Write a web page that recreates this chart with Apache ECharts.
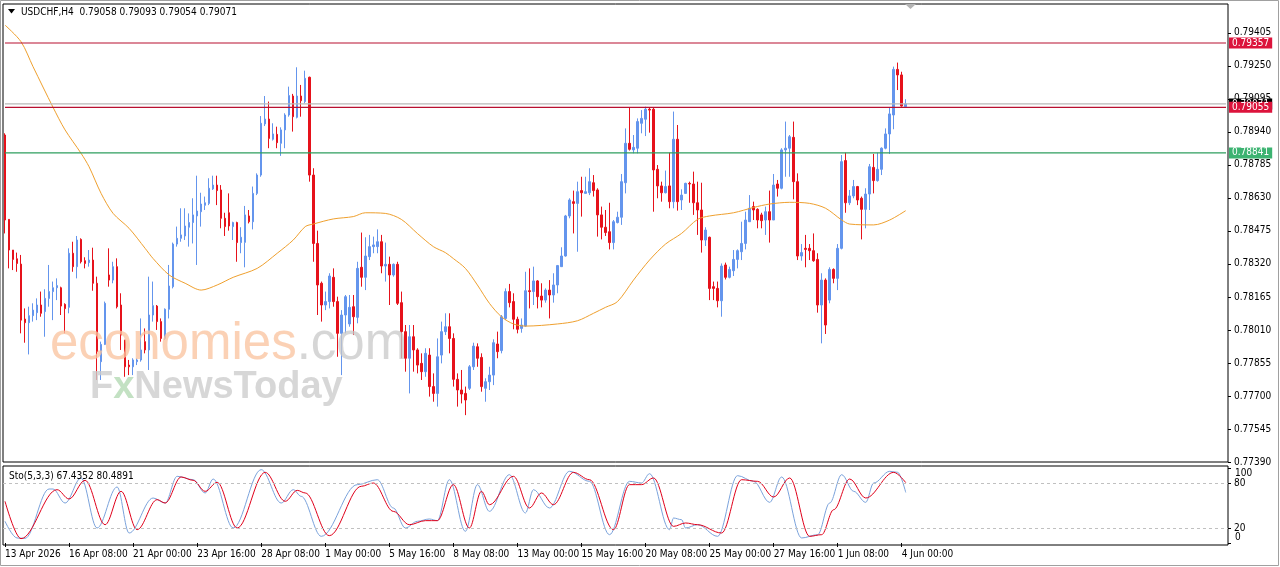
<!DOCTYPE html>
<html><head><meta charset="utf-8">
<script src="https://cdn.jsdelivr.net/npm/echarts@6/dist/echarts.min.js"></script>
<style>html,body{margin:0;padding:0;background:#fff}#c{width:1280px;height:567px}</style>
</head><body><div id="c"></div>
<script>
// ---------------- data ----------------
const symbolTitle = 'USDCHF,H4  0.79058 0.79093 0.79054 0.79071';
const stochTitle = 'Sto(5,3,3) 67.4352 80.4891';
const timeLabels = ['13 Apr 2026','16 Apr 08:00','21 Apr 00:00','23 Apr 16:00','28 Apr 08:00','1 May 00:00','5 May 16:00','8 May 08:00','13 May 00:00','15 May 16:00','20 May 08:00','25 May 00:00','27 May 16:00','1 Jun 08:00','4 Jun 00:00'];
const labelEvery = 16;      // bars between time labels
const totalSlots = 306;     // bar slots incl. right-hand chart shift
const priceTicks = [0.77390,0.77545,0.77700,0.77855,0.78010,0.78165,0.78320,0.78475,0.78630,0.78785,0.78940,0.79095,0.79250,0.79405];
const stochTicks = [0,20,80,100];
const stochInnerLabels = [20,80];
const stochEdgeLabels = [100,0];
const stochLevels = [20,80];
const resistanceLevel = 0.79357;
const pivotLevel = 0.79055;
const supportLevel = 0.78841;
const bidLevel = 0.79071;

// [open, close, low, high]
const candles = [
[0.78925,0.78526,0.78463,0.78933],[0.78529,0.78385,0.78299,0.78529],[0.78385,0.78341,0.78291,0.78385],[0.78344,0.78322,0.78283,0.78373],
[0.78319,0.78056,0.77994,0.78362],[0.78061,0.78044,0.77950,0.78111],[0.78044,0.78077,0.77895,0.78119],[0.78077,0.78103,0.78049,0.78135],
[0.78091,0.78127,0.78056,0.78158],[0.78127,0.78088,0.78072,0.78190],[0.78096,0.78158,0.77978,0.78201],[0.78158,0.78190,0.78119,0.78315],
[0.78190,0.78208,0.78056,0.78237],[0.78208,0.78218,0.78150,0.78252],[0.78208,0.78122,0.78080,0.78213],[0.78130,0.78110,0.77994,0.78135],
[0.78116,0.78370,0.78088,0.78393],[0.78370,0.78307,0.78283,0.78424],[0.78307,0.78432,0.78252,0.78451],[0.78435,0.78330,0.78322,0.78440],
[0.78335,0.78322,0.78299,0.78351],[0.78326,0.78338,0.78307,0.78385],[0.78338,0.78229,0.78194,0.78396],[0.78229,0.77908,0.77775,0.78260],
[0.77861,0.77942,0.77775,0.77955],[0.77942,0.78135,0.77939,0.78143],[0.78268,0.78244,0.78213,0.78393],[0.78244,0.78307,0.78229,0.78330],
[0.78307,0.78119,0.78111,0.78346],[0.78127,0.77986,0.77916,0.78182],[0.77963,0.77837,0.77790,0.77963],[0.77845,0.77837,0.77798,0.77869],
[0.77837,0.77869,0.77798,0.77877],[0.77861,0.77869,0.77845,0.77877],[0.77869,0.77916,0.77861,0.78064],[0.77955,0.77916,0.77900,0.78017],
[0.77916,0.78080,0.77822,0.78260],[0.78080,0.78124,0.78049,0.78237],[0.78122,0.78049,0.78010,0.78127],[0.78049,0.77970,0.77955,0.78064],
[0.77970,0.78107,0.77963,0.78111],[0.78107,0.78216,0.78064,0.78315],[0.78213,0.78413,0.78205,0.78420],[0.78413,0.78440,0.78401,0.78495],
[0.78440,0.78456,0.78424,0.78581],[0.78451,0.78498,0.78432,0.78581],[0.78492,0.78514,0.78401,0.78557],[0.78514,0.78550,0.78416,0.78628],
[0.78545,0.78568,0.78315,0.78734],[0.78565,0.78601,0.78495,0.78654],[0.78595,0.78607,0.78573,0.78636],[0.78604,0.78675,0.78596,0.78722],
[0.78672,0.78690,0.78667,0.78734],[0.78690,0.78664,0.78596,0.78734],[0.78667,0.78534,0.78487,0.78690],[0.78534,0.78495,0.78451,0.78560],
[0.78560,0.78498,0.78476,0.78651],[0.78495,0.78514,0.78432,0.78518],[0.78514,0.78420,0.78330,0.78518],[0.78420,0.78445,0.78370,0.78492],
[0.78421,0.78550,0.78304,0.78592],[0.78545,0.78518,0.78510,0.78573],[0.78518,0.78651,0.78482,0.78683],[0.78651,0.78737,0.78643,0.78745],
[0.78737,0.78980,0.78729,0.79014],[0.78977,0.79000,0.78967,0.79108],[0.79000,0.78909,0.78863,0.79082],[0.78905,0.78930,0.78899,0.78980],
[0.78928,0.78889,0.78863,0.78964],[0.78886,0.78949,0.78827,0.78961],[0.78949,0.79019,0.78863,0.79027],[0.79019,0.79110,0.79011,0.79152],
[0.79108,0.79011,0.78941,0.79118],[0.79008,0.79108,0.79003,0.79243],[0.79108,0.79086,0.79011,0.79160],[0.79082,0.79191,0.79074,0.79227],
[0.79196,0.78737,0.78706,0.79199],[0.78737,0.78416,0.78330,0.78769],[0.78416,0.78221,0.78080,0.78476],[0.78229,0.78127,0.78049,0.78237],
[0.78127,0.78143,0.78103,0.78190],[0.78143,0.78263,0.78111,0.78276],[0.78257,0.78143,0.78119,0.78299],[0.78143,0.77994,0.77884,0.78166],
[0.77994,0.78080,0.77798,0.78103],[0.78080,0.78166,0.77994,0.78174],[0.78038,0.78116,0.78025,0.78174],[0.78119,0.78072,0.77986,0.78174],
[0.78069,0.78299,0.78041,0.78330],[0.78304,0.78257,0.78213,0.78467],[0.78257,0.78357,0.78197,0.78445],[0.78354,0.78401,0.78338,0.78456],
[0.78401,0.78409,0.78370,0.78448],[0.78401,0.78424,0.78370,0.78482],[0.78424,0.78310,0.78276,0.78456],[0.78310,0.78318,0.78237,0.78420],
[0.78318,0.78268,0.78127,0.78354],[0.78268,0.78318,0.78260,0.78322],[0.78318,0.78135,0.78127,0.78330],[0.78138,0.78002,0.77877,0.78190],
[0.78002,0.77877,0.77814,0.78033],[0.77877,0.77978,0.77712,0.78033],[0.77978,0.77916,0.77814,0.78033],[0.77916,0.77845,0.77806,0.77924],
[0.77853,0.77814,0.77775,0.77900],[0.77814,0.77900,0.77790,0.77924],[0.77892,0.77744,0.77697,0.77924],[0.77744,0.77712,0.77673,0.77806],
[0.77712,0.77884,0.77650,0.77970],[0.77892,0.78002,0.77853,0.78049],[0.78002,0.78025,0.77986,0.78088],[0.78025,0.77970,0.77900,0.78088],
[0.77970,0.77778,0.77744,0.77994],[0.77778,0.77728,0.77650,0.77806],[0.77728,0.77709,0.77665,0.77822],[0.77712,0.77681,0.77610,0.77744],
[0.77736,0.77837,0.77728,0.77845],[0.77837,0.77934,0.77822,0.77950],[0.77931,0.77877,0.77837,0.77947],[0.77881,0.77744,0.77720,0.77900],
[0.77736,0.77767,0.77673,0.77783],[0.77767,0.77798,0.77728,0.77837],[0.77798,0.77950,0.77751,0.77966],[0.77944,0.77908,0.77877,0.78002],
[0.77913,0.78072,0.77900,0.78080],[0.78064,0.78190,0.78056,0.78205],[0.78190,0.78138,0.78116,0.78226],[0.78143,0.78060,0.78013,0.78182],
[0.78060,0.78013,0.77994,0.78072],[0.78017,0.78033,0.77997,0.78064],[0.78028,0.78194,0.78025,0.78283],[0.78194,0.78190,0.78111,0.78299],
[0.78190,0.78240,0.78127,0.78307],[0.78240,0.78166,0.78111,0.78244],[0.78169,0.78150,0.78116,0.78229],[0.78150,0.78197,0.78138,0.78205],
[0.78197,0.78174,0.78064,0.78244],[0.78174,0.78221,0.78138,0.78276],[0.78221,0.78312,0.78182,0.78315],[0.78307,0.78357,0.78307,0.78398],
[0.78357,0.78545,0.78354,0.78550],[0.78545,0.78620,0.78534,0.78628],[0.78612,0.78604,0.78463,0.78664],[0.78604,0.78659,0.78377,0.78706],
[0.78664,0.78654,0.78542,0.78729],[0.78651,0.78659,0.78651,0.78729],[0.78654,0.78706,0.78643,0.78769],[0.78701,0.78664,0.78636,0.78737],
[0.78667,0.78550,0.78448,0.78675],[0.78550,0.78492,0.78435,0.78589],[0.78492,0.78467,0.78451,0.78573],[0.78471,0.78420,0.78388,0.78607],
[0.78420,0.78518,0.78388,0.78526],[0.78514,0.78539,0.78510,0.78565],[0.78539,0.78706,0.78503,0.78742],[0.78701,0.78886,0.78651,0.78956],
[0.78886,0.78858,0.78852,0.79055],[0.78855,0.78867,0.78839,0.78925],[0.78863,0.78988,0.78839,0.79003],[0.78980,0.79003,0.78933,0.79042],
[0.78999,0.79046,0.78920,0.79058],[0.79046,0.79042,0.78936,0.79055],[0.79046,0.78761,0.78565,0.79055],[0.78764,0.78686,0.78628,0.78784],
[0.78686,0.78654,0.78612,0.78706],[0.78654,0.78683,0.78651,0.78758],[0.78686,0.78612,0.78581,0.78842],[0.78612,0.78905,0.78581,0.79035],
[0.78905,0.78612,0.78570,0.78972],[0.78620,0.78643,0.78573,0.78670],[0.78651,0.78698,0.78651,0.78701],[0.78698,0.78695,0.78607,0.78706],
[0.78695,0.78607,0.78550,0.78753],[0.78607,0.78573,0.78456,0.78706],[0.78573,0.78432,0.78373,0.78701],[0.78432,0.78479,0.78404,0.78492],
[0.78445,0.78205,0.78150,0.78448],[0.78213,0.78205,0.78150,0.78237],[0.78205,0.78147,0.78116,0.78237],[0.78147,0.78310,0.78072,0.78322],
[0.78315,0.78257,0.78247,0.78326],[0.78257,0.78294,0.78252,0.78307],[0.78288,0.78341,0.78263,0.78385],[0.78341,0.78382,0.78299,0.78388],
[0.78377,0.78416,0.78338,0.78518],[0.78416,0.78526,0.78388,0.78565],[0.78518,0.78581,0.78518,0.78643],[0.78589,0.78573,0.78526,0.78612],
[0.78576,0.78526,0.78487,0.78581],[0.78550,0.78523,0.78487,0.78560],[0.78526,0.78565,0.78456,0.78589],[0.78565,0.78526,0.78420,0.78664],
[0.78526,0.78690,0.78526,0.78742],[0.78695,0.78675,0.78636,0.78714],[0.78675,0.78855,0.78670,0.78863],[0.78855,0.78863,0.78729,0.78988],
[0.78863,0.78917,0.78729,0.78925],[0.78914,0.78706,0.78623,0.78988],[0.78706,0.78357,0.78338,0.78745],[0.78357,0.78373,0.78335,0.78413],
[0.78393,0.78388,0.78304,0.78456],[0.78393,0.78382,0.78338,0.78413],[0.78382,0.78335,0.78330,0.78463],[0.78341,0.78127,0.78091,0.78370],
[0.78127,0.78244,0.77947,0.78276],[0.78244,0.78033,0.77991,0.78252],[0.78150,0.78294,0.78135,0.78304],[0.78294,0.78252,0.78229,0.78299],
[0.78252,0.78393,0.78197,0.78413],[0.78393,0.78800,0.78388,0.78831],[0.78805,0.78607,0.78560,0.78842],[0.78607,0.78639,0.78596,0.78667],
[0.78639,0.78683,0.78628,0.78714],[0.78683,0.78620,0.78596,0.78686],[0.78628,0.78576,0.78435,0.78636],[0.78576,0.78648,0.78487,0.78675],
[0.78648,0.78776,0.78573,0.78789],[0.78773,0.78711,0.78651,0.78836],[0.78711,0.78764,0.78706,0.78842],[0.78764,0.78863,0.78737,0.78867],
[0.78863,0.78930,0.78858,0.78956],[0.78930,0.79024,0.78836,0.79055],[0.79019,0.79233,0.78952,0.79246],[0.79233,0.79207,0.79136,0.79265],
[0.79207,0.79061,0.79058,0.79222],[0.79058,0.79071,0.79054,0.79093]
];

// moving average readings: [bar index, price]
const maReadings = [[0,0.79441],[4,0.79363],[7,0.79246],[12,0.79055],[15,0.78949],[19,0.78839],[21,0.78776],[24,0.78651],[27,0.78557],[31,0.78487],[35,0.78393],[37,0.78345],[41,0.78268],[45,0.78229],[49,0.78197],[53,0.78221],[57,0.78257],[63,0.78299],[68,0.78370],[72,0.78432],[75,0.78495],[77,0.78507],[82,0.78531],[87,0.78542],[90,0.78560],[95,0.78557],[99,0.78529],[103,0.78463],[107,0.78401],[110,0.78373],[112,0.78345],[115,0.78299],[118,0.78221],[121,0.78135],[124,0.78072],[127,0.78038],[130,0.78028],[138,0.78038],[143,0.78053],[147,0.78088],[150,0.78116],[153,0.78143],[157,0.78244],[161,0.78338],[165,0.78413],[169,0.78463],[173,0.78529],[176,0.78545],[182,0.78560],[187,0.78585],[191,0.78601],[196,0.78609],[201,0.78604],[205,0.78581],[209,0.78526],[211,0.78507],[217,0.78503],[221,0.78526],[225,0.78570]];

// stochastic readings: [bar index, value]
const stochMain = [[0,28.9],[3,6.7],[5,6.2],[11,72],[12,72],[15,53.3],[19,86.7],[23,20],[28,74.7],[31,13.3],[37,60],[40,53.3],[43,88.9],[47,84.4],[50,66.7],[52,85.3],[57,20],[64,97.8],[69,53.3],[72,71.1],[74,62.2],[79,8.9],[88,77.8],[93,84.4],[97,46.7],[100,20],[103,28.9],[106,32],[108,29.8],[111,84.4],[115,15.6],[118,77.8],[121,42.2],[126,91.1],[130,40],[132,71.1],[136,46.7],[141,95.6],[146,82.2],[151,11.1],[156,82.2],[159,80],[161,92.4],[166,17.8],[167,33.3],[169,31.1],[170,20],[173,24.4],[178,8.9],[183,89.8],[187,82.2],[191,54.2],[194,88],[199,6.7],[203,11.1],[206,53.3],[209,91.1],[212,68.9],[215,54.2],[217,80],[221,95.6],[223,94.2],[225,67.4352]];
const stochSignal = [[0,55.6],[4,5.8],[13,71.1],[16,58.7],[20,83.6],[25,24.4],[29,68.9],[33,17.8],[38,57.8],[40,53.3],[44,88],[47,83.6],[50,68.9],[53,80.9],[58,20],[65,94.2],[70,55.6],[73,70.2],[75,66.7],[81,9.8],[89,75.6],[92,80],[97,42.2],[101,24.4],[105,29.8],[108,29.8],[112,77.8],[116,20],[119,68.9],[121,51.1],[127,88.9],[131,46.7],[134,66.7],[137,51.1],[142,94.2],[146,84.4],[152,17.8],[156,77.8],[159,77.8],[162,86.7],[167,22.2],[170,26.7],[173,24.4],[179,13.3],[184,84.4],[188,82.2],[192,61.3],[196,86.7],[201,8.9],[204,11.1],[207,44.4],[211,85.3],[215,60],[222,94.2],[225,80.4891]];

// ---------------- chart ----------------
const FONT = "'DejaVu Sans Condensed','DejaVu Sans',sans-serif";
const UP = '#6495ED', DOWN = '#E6121B';
const cats = Array.from({length: totalSlots}, (_, i) => String(i));
const isLabelSlot = (i) => i % labelEvery === 0 && i / labelEvery < timeLabels.length;
const txt = {color:'#000', fontFamily:FONT, fontSize:10};

// each horizontal level is a flat two-point line across the whole time span, with its price box at the end
function levelSeries(value, lineColor, boxColor, z) {
  return {
    type: 'line', xAxisIndex: 0, yAxisIndex: 0, z: z, silent: true, showSymbol: false, symbol: 'none',
    data: [[0, value], [totalSlots - 1, value]],
    lineStyle: {color: lineColor, width: 1.2},
    itemStyle: {color: lineColor},
    emphasis: {disabled: true},
    endLabel: {show: true, distance: 3, formatter: () => value.toFixed(5),
      backgroundColor: boxColor, color: '#fff', padding: [1, 3, 0, 3], fontFamily: FONT, fontSize: 10}
  };
}

const chart = echarts.init(document.getElementById('c'), null, {renderer: 'canvas', width: 1280, height: 567});
chart.setOption({
  animation: false,
  backgroundColor: '#fff',
  grid: [
    {left: 3, top: 4, width: 1225, height: 458, show: true, borderColor: '#000', borderWidth: 1, backgroundColor: 'transparent'},
    {left: 3, top: 466, width: 1225, height: 79, show: true, borderColor: '#000', borderWidth: 1, backgroundColor: 'transparent'}
  ],
  xAxis: [
    {type: 'category', gridIndex: 0, data: cats, boundaryGap: true, axisLine: {show: false}, axisTick: {show: false}, axisLabel: {show: false}, splitLine: {show: false}},
    {type: 'category', gridIndex: 1, data: cats, boundaryGap: true, axisLine: {show: false},
      axisTick: {show: true, alignWithLabel: true, interval: (i) => isLabelSlot(i), length: 4, lineStyle: {color: '#000'}},
      axisLabel: Object.assign({interval: (i) => isLabelSlot(i), formatter: (v, i) => timeLabels[i / labelEvery] || '', align: 'left', margin: 4}, txt),
      splitLine: {show: false}}
  ],
  yAxis: [
    {type: 'value', gridIndex: 0, position: 'right', min: priceTicks[0], max: 0.79540, scale: true,
      axisLine: {show: false}, splitLine: {show: false},
      axisTick: {show: true, customValues: priceTicks, length: 3, lineStyle: {color: '#000'}},
      axisLabel: Object.assign({customValues: priceTicks, formatter: (v) => v.toFixed(5), margin: 6}, txt)},
    {type: 'value', gridIndex: 1, position: 'right', min: -2.67, max: 102.67,
      axisLine: {show: false}, splitLine: {show: false},
      axisTick: {show: true, customValues: stochTicks, length: 3, lineStyle: {color: '#000'}},
      axisLabel: Object.assign({customValues: stochInnerLabels, margin: 6}, txt)}
  ],
  series: [
    {type: 'candlestick', xAxisIndex: 0, yAxisIndex: 0, data: candles, barWidth: 2, large: false,
      itemStyle: {color: UP, color0: DOWN, borderColor: UP, borderColor0: DOWN, borderWidth: 1}},
    {type: 'line', xAxisIndex: 0, yAxisIndex: 0, data: maReadings, showSymbol: false, smooth: 0.3,
      lineStyle: {color: '#EFA02E', width: 1}, z: 3},
    levelSeries(bidLevel, '#B8B8B8', '#000000', 4),
    levelSeries(pivotLevel, '#B81030', '#DC143C', 5),
    levelSeries(resistanceLevel, '#B81030', '#DC143C', 5),
    levelSeries(supportLevel, '#2E9E5E', '#3CB371', 5),
    {type: 'line', xAxisIndex: 1, yAxisIndex: 1, data: stochMain, showSymbol: false, smooth: 0.35, smoothMonotone: 'x',
      lineStyle: {color: '#7BA3DC', width: 1},
      markLine: {symbol: ['none', 'none'], silent: true, label: {show: false},
        lineStyle: {color: '#C0C0C0', type: [3, 3], width: 1},
        data: stochLevels.map(v => ({yAxis: v}))}},
    {type: 'line', xAxisIndex: 1, yAxisIndex: 1, data: stochSignal, showSymbol: false, smooth: 0.35, smoothMonotone: 'x',
      lineStyle: {color: '#E0001A', width: 1}}
  ],
  graphic: [
    {type: 'rect', silent: true, z: -10, shape: {x: 0.5, y: 0.5, width: 1278, height: 565}, style: {fill: 'none', stroke: '#A0A0A0', lineWidth: 1}},
    {type: 'polygon', silent: true, z: 100, shape: {points: [[8, 9], [15, 9], [11.5, 13.5]]}, style: {fill: '#000'}},
    {type: 'text', silent: true, z: 100, x: 21, y: 12, style: {text: symbolTitle, fill: '#000', fontFamily: FONT, fontSize: 10, verticalAlign: 'middle'}},
    {type: 'text', silent: true, z: 100, x: 9, y: 476, style: {text: stochTitle, fill: '#000', fontFamily: FONT, fontSize: 10, verticalAlign: 'middle'}},
    {type: 'polygon', silent: true, z: 100, shape: {points: [[905, 4], [916, 4], [910.5, 9]]}, style: {fill: '#B4B4B4'}},
    {type: 'text', silent: true, z: 90, x: 50, y: 345, style: {text: '{a|economies}{b|.com}', verticalAlign: 'middle',
      rich: {a: {fill: 'rgba(250,196,160,0.78)', fontFamily: "'Liberation Sans',sans-serif", fontSize: 51},
             b: {fill: 'rgba(200,200,200,0.75)', fontFamily: "'Liberation Sans',sans-serif", fontSize: 51}}}},
    {type: 'text', silent: true, z: 90, x: 90, y: 388, style: {text: '{a|F}{x|x}{a|NewsToday}', verticalAlign: 'middle',
      rich: {a: {fill: 'rgba(205,205,205,0.8)', fontFamily: "'Liberation Sans',sans-serif", fontSize: 38, fontWeight: 'bold'},
             x: {fill: 'rgba(175,215,175,0.75)', fontFamily: "'Liberation Sans',sans-serif", fontSize: 38, fontWeight: 'bold'}}}}
  ]
});

// stochastic edge labels (100 / 0), placed through the indicator's own scale, nudged inside the panel like the terminal does
const edgeGraphics = stochEdgeLabels.map((v, k) => {
  const px = chart.convertToPixel({xAxisIndex: 1, yAxisIndex: 1}, [0, v]);
  return {id: 'edge' + k, type: 'text', silent: true, z: 100, x: 1235, y: px[1] + (v === 100 ? 5 : -5.5),
    style: {text: String(v), fill: '#000', fontFamily: FONT, fontSize: 10, verticalAlign: 'middle'}};
});
chart.setOption({graphic: edgeGraphics});
</script>
</body></html>
